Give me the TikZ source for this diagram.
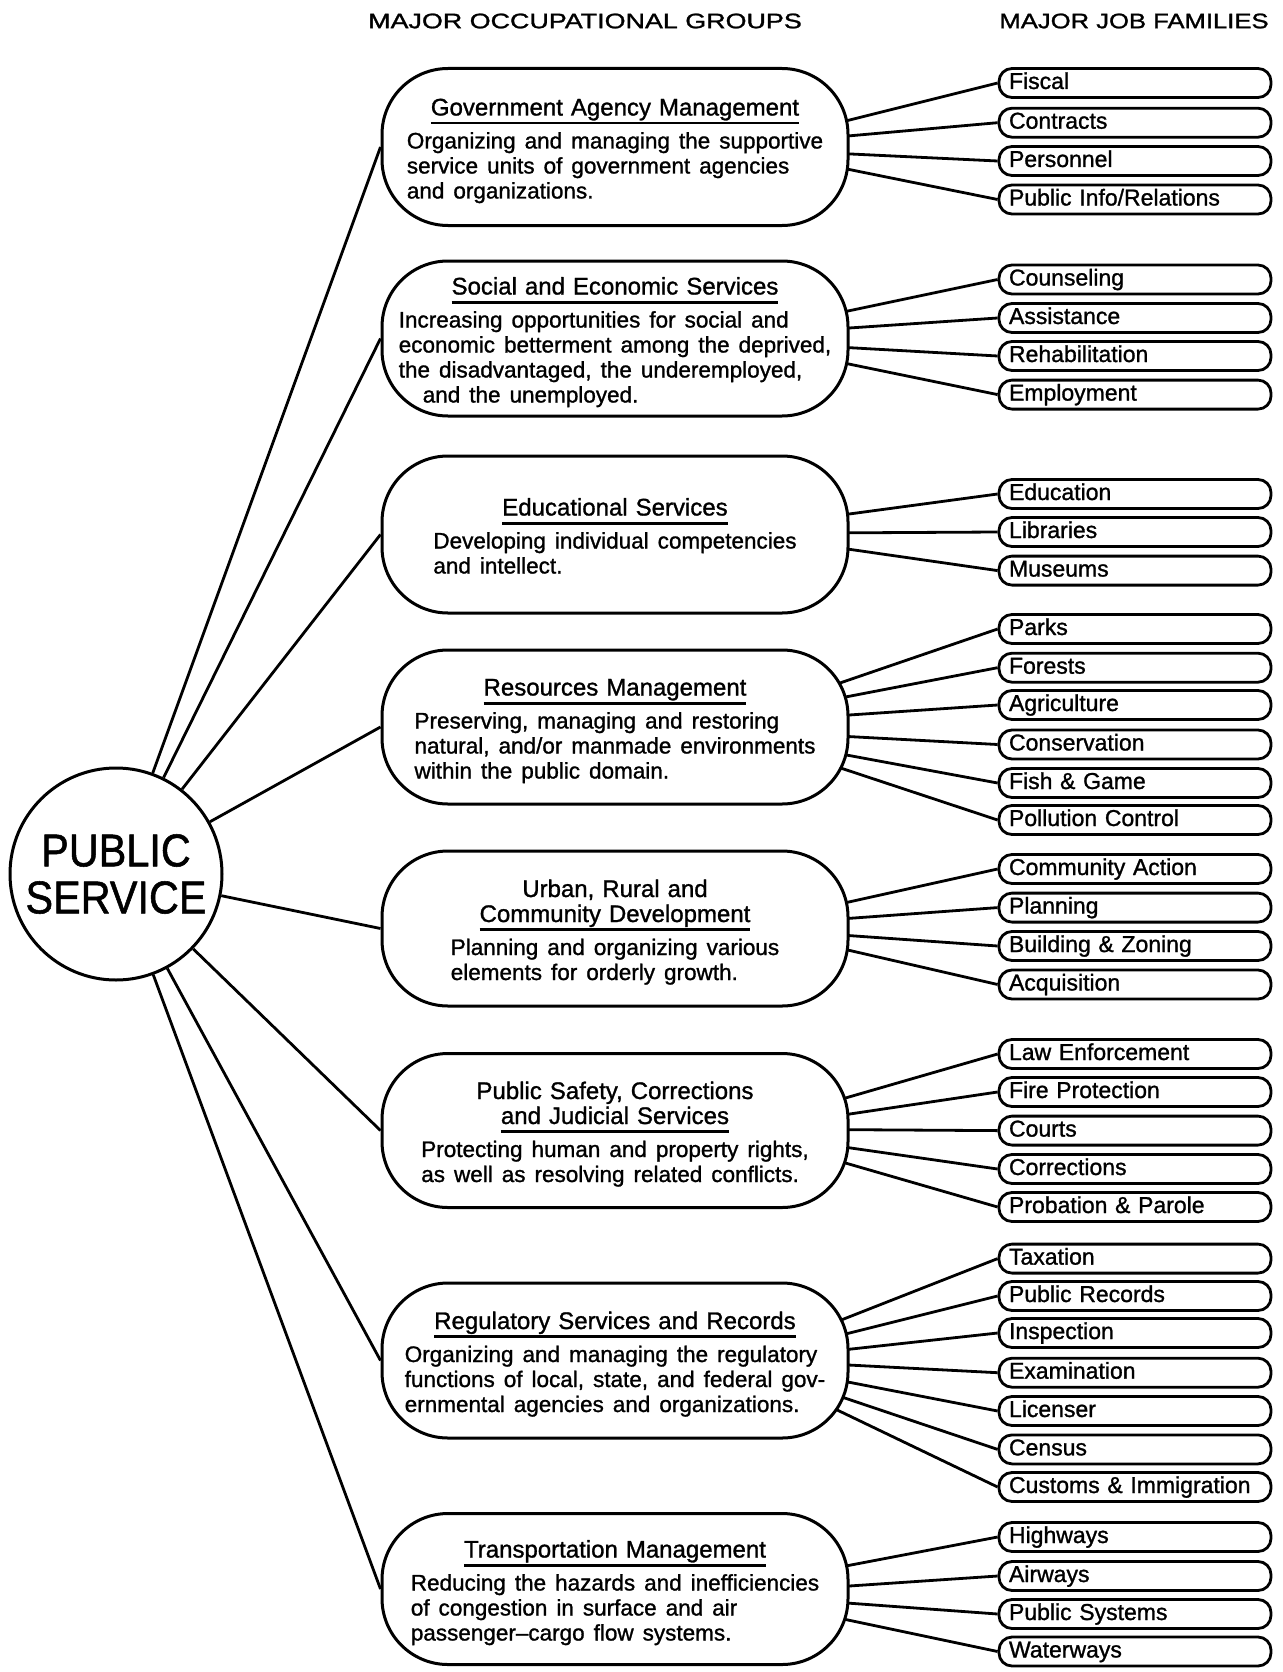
\documentclass[tikz,border=0pt]{standalone}
\usepackage{fontspec}
\usepackage{graphicx}
\setmainfont[FakeBold=1.2]{Liberation Sans}
\newfontfamily\ttlfont[WordSpace=2.2,FakeBold=1.2]{Liberation Sans}
\newfontfamily\dscfont[WordSpace=1.2,FakeBold=1.2]{Liberation Sans}
\pgfdeclarelayer{wires}
\pgfsetlayers{wires,main}
% underlined group title line
\newcommand\ttlline[1]{\setbox0\hbox{#1}\rlap{\rule[-9pt]{\wd0}{2.6pt}}\box0}
% group box contents: centred title block over a left-aligned description block,
% set a little below the optical centre of the box
\newcommand\grpbody[2]{\raisebox{-5pt}[\height][\depth]{\begin{tabular}{@{}c@{}}%
  {\ttlfont\fontsize{24}{25}\selectfont\begin{tabular}[b]{@{}c@{}}#1\end{tabular}}\\[8pt]%
  {\dscfont\begin{tabular}[t]{@{}l@{}}#2\end{tabular}}\end{tabular}}}
\begin{document}
\begin{tikzpicture}[x=1pt,y=-1pt,line join=round,
  grp/.style={draw,fill=white,line width=3pt,rounded corners=66pt,minimum width=466pt,
    minimum height=155pt,align=center,inner sep=0pt,font=\fontsize{22.5}{25}\selectfont},
  job/.style={draw,fill=white,line width=2.8pt,rounded corners=13pt,text width=252pt,align=left,
    text height=17pt,text depth=5pt,inner xsep=10pt,inner ysep=3.5pt,
    font=\fontsize{23}{25}\selectfont},
  link/.style={line width=2.8pt},
  hdr/.style={font=\fontsize{21}{24}\selectfont}]
\useasboundingbox (0,0) rectangle (1282,1672);

% column headings
\node[hdr] (h1) at (585,21) {\scalebox{1.28}[1]{MAJOR OCCUPATIONAL GROUPS}};
\node[hdr] (h2) at (1134,21) {\scalebox{1.22}[1]{MAJOR JOB FAMILIES}};

% hub
\node[draw,fill=white,circle,line width=3pt,minimum size=212pt,inner sep=0pt,align=center,
  font=\fontsize{46}{47}\selectfont] (ps) at (116,874)
  {\scalebox{0.9}[1]{PUBLIC}\\\scalebox{0.9}[1]{SERVICE}};

% occupational groups
\node[grp,minimum height=157pt] (g1) at (615,147) {\grpbody{\ttlline{Government Agency Management}}{Organizing and managing the supportive\\service units of government agencies\\and organizations.}};
\node[grp] (g2) at (615,338.5) {\grpbody{\ttlline{Social and Economic Services}}{Increasing opportunities for social and\\economic betterment among the deprived,\\the disadvantaged, the underemployed,\\\hspace{24pt}and the unemployed.}};
\node[grp,minimum height=157pt] (g3) at (615,534.5) {\grpbody{\ttlline{Educational Services}}{Developing individual competencies\\and intellect.}};
\node[grp,minimum height=154pt] (g4) at (615,727) {\grpbody{\ttlline{Resources Management}}{Preserving, managing and restoring\\natural, and/or manmade environments\\within the public domain.}};
\node[grp] (g5) at (615,928.5) {\grpbody{Urban, Rural and\\\ttlline{Community Development}}{Planning and organizing various\\elements for orderly growth.}};
\node[grp,minimum height=154pt] (g6) at (615,1130.5) {\grpbody{Public Safety, Corrections\\\ttlline{and Judicial Services}}{Protecting human and property rights,\\as well as resolving related conflicts.}};
\node[grp] (g7) at (615,1360.5) {\grpbody{\ttlline{Regulatory Services and Records}}{Organizing and managing the regulatory\\functions of local, state, and federal gov-\\ernmental agencies and organizations.}};
\node[grp,minimum height=151pt] (g8) at (615,1589) {\grpbody{\ttlline{Transportation Management}}{Reducing the hazards and inefficiencies\\of congestion in surface and air\\passenger\textendash cargo flow systems.}};

% job families
\node[job] (j11) at (1135,83) {Fiscal};
\node[job] (j12) at (1135,122.7) {Contracts};
\node[job] (j13) at (1135,161) {Personnel};
\node[job] (j14) at (1135,199.5) {Public Info/Relations};

\node[job] (j21) at (1135,279.5) {Counseling};
\node[job] (j22) at (1135,318) {Assistance};
\node[job] (j23) at (1135,356) {Rehabilitation};
\node[job] (j24) at (1135,394.6) {Employment};

\node[job] (j31) at (1135,494) {Education};
\node[job] (j32) at (1135,532) {Libraries};
\node[job] (j33) at (1135,570.6) {Museums};

\node[job] (j41) at (1135,629) {Parks};
\node[job] (j42) at (1135,667.7) {Forests};
\node[job] (j43) at (1135,705) {Agriculture};
\node[job] (j44) at (1135,744.5) {Conservation};
\node[job] (j45) at (1135,783) {Fish \& Game};
\node[job] (j46) at (1135,820) {Pollution Control};

\node[job] (j51) at (1135,869) {Community Action};
\node[job] (j52) at (1135,907.6) {Planning};
\node[job] (j53) at (1135,946) {Building \& Zoning};
\node[job] (j54) at (1135,984.5) {Acquisition};

\node[job] (j61) at (1135,1054) {Law Enforcement};
\node[job] (j62) at (1135,1092) {Fire Protection};
\node[job] (j63) at (1135,1130.6) {Courts};
\node[job] (j64) at (1135,1169) {Corrections};
\node[job] (j65) at (1135,1207) {Probation \& Parole};

\node[job] (j71) at (1135,1258.6) {Taxation};
\node[job] (j72) at (1135,1296) {Public Records};
\node[job] (j73) at (1135,1333) {Inspection};
\node[job] (j74) at (1135,1372.7) {Examination};
\node[job] (j75) at (1135,1411) {Licenser};
\node[job] (j76) at (1135,1449.4) {Census};
\node[job] (j77) at (1135,1487) {Customs \& Immigration};

\node[job] (j81) at (1135,1537) {Highways};
\node[job] (j82) at (1135,1576) {Airways};
\node[job] (j83) at (1135,1614) {Public Systems};
\node[job] (j84) at (1135,1651.5) {Waterways};

\begin{pgfonlayer}{wires}
% hub to groups
\foreach \g in {g1,g2,g3,g4,g5,g6,g7,g8}
  \draw[link] (ps) -- (\g.west);

% groups to job families (each fan starts inside its box, hidden by the fill)
\foreach \g/\j/\d in {g1/j11/19.5, g1/j12/8.5, g1/j13/-5.5, g1/j14/-16.5,
    g2/j21/21.5, g2/j22/8.5, g2/j23/-7.5, g2/j24/-19.5,
    g3/j31/16.5, g3/j32/1.5, g3/j33/-10.5,
    g4/j41/37, g4/j42/25, g4/j43/10, g4/j44/-8, g4/j45/-23, g4/j46/-34,
    g5/j51/20, g5/j52/8, g5/j53/-5, g5/j54/-15,
    g6/j61/25, g6/j62/12, g6/j63/1, g6/j64/-13, g6/j65/-25,
    g7/j71/32, g7/j72/20, g7/j73/8, g7/j74/-3, g7/j75/-16, g7/j76/-29, g7/j77/-41,
    g8/j81/18, g8/j82/1, g8/j83/-12, g8/j84/-25}
  \draw[link] ([xshift=-30pt,yshift=\d pt]\g.east) -- (\j.west);
\end{pgfonlayer}
\end{tikzpicture}
\end{document}
